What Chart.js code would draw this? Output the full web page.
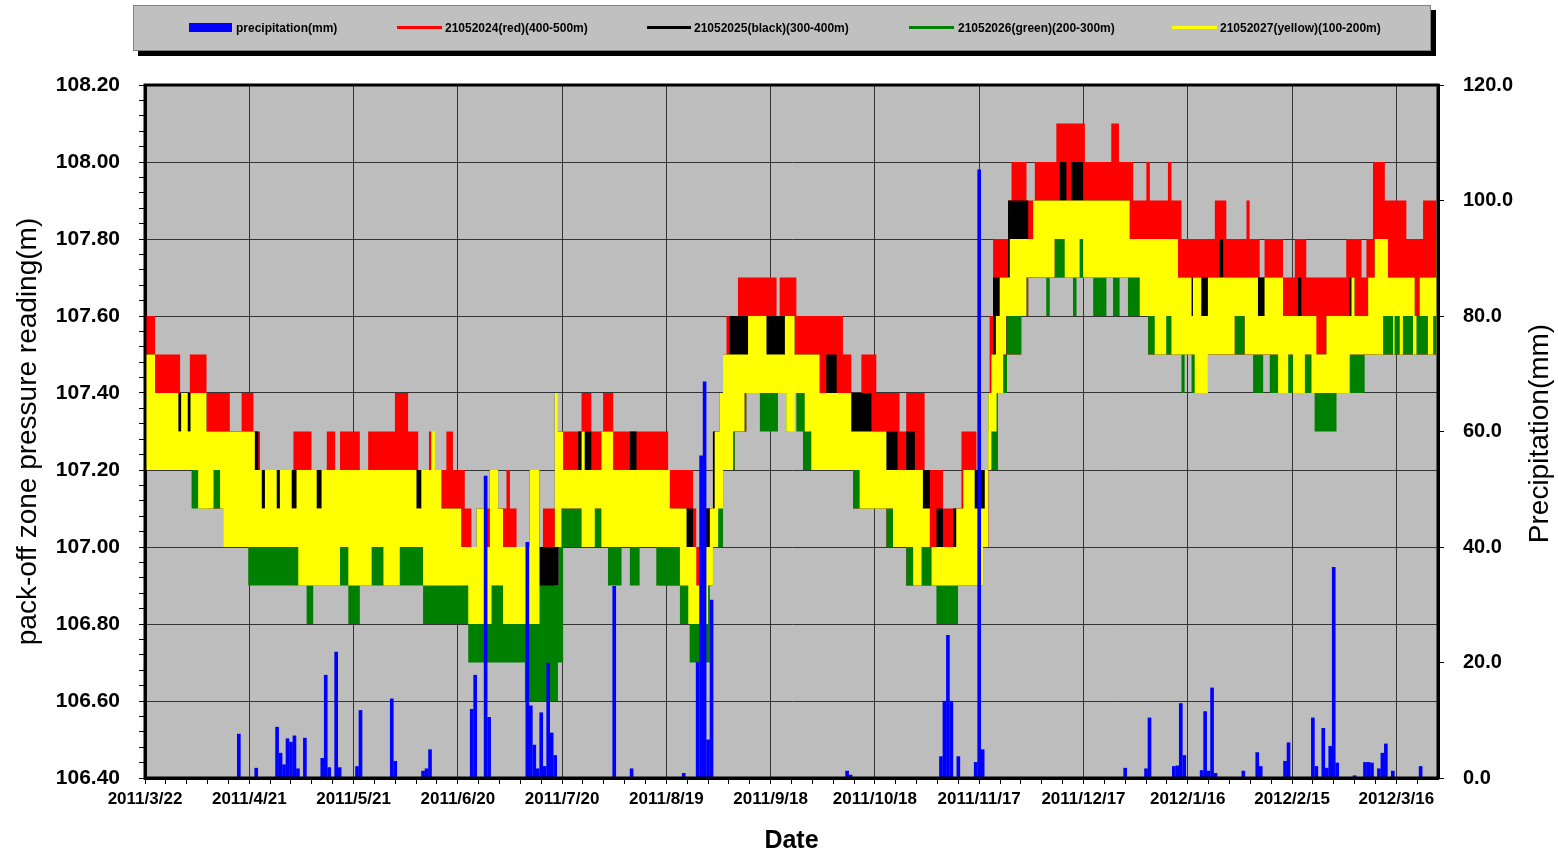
<!DOCTYPE html>
<html>
<head>
<meta charset="utf-8">
<script src="https://cdn.jsdelivr.net/npm/chart.js@4.4.1/dist/chart.umd.min.js"></script>
<style>
    body { margin: 0; background: #fff; }
    #wrap { position: relative; width: 1558px; height: 856px; }
    #chart { position: absolute; left: 0; top: 0; }
    #legend {
        position: absolute; left: 133px; top: 5px; width: 1296px; height: 44px;
        background: #c0c0c0; border: 1px solid #808080; box-shadow: 5px 5px 0 #000;
        font: bold 12px 'Liberation Sans', Arial, sans-serif; color: #000;
    }
    #legend span { position: absolute; }
    #legend .txt { top: 15px; line-height: 14px; white-space: nowrap; }
</style>
</head>
<body>
<div id="wrap">
    <canvas id="chart" width="1558" height="856"></canvas>
    <div id="legend">
        <span style="left:55px;top:17px;width:43px;height:9px;background:#0000ff"></span>
        <span class="txt" style="left:102px">precipitation(mm)</span>
        <span style="left:263px;top:20px;width:45px;height:3px;background:#ff0000"></span>
        <span class="txt" style="left:311px">21052024(red)(400-500m)</span>
        <span style="left:513px;top:20px;width:44px;height:3px;background:#000"></span>
        <span class="txt" style="left:560px">21052025(black)(300-400m)</span>
        <span style="left:775px;top:20px;width:45px;height:3px;background:#008000"></span>
        <span class="txt" style="left:824px">21052026(green)(200-300m)</span>
        <span style="left:1038px;top:20px;width:45px;height:3px;background:#ffff00"></span>
        <span class="txt" style="left:1086px">21052027(yellow)(100-200m)</span>
    </div>
</div>
<script>
// x values are days since 2011/3/22
const dateLabels = ['2011/3/22', '2011/4/21', '2011/5/21', '2011/6/20', '2011/7/20', '2011/8/19', '2011/9/18',
    '2011/10/18', '2011/11/17', '2011/12/17', '2012/1/16', '2012/2/15', '2012/3/16'];
const leftTickLabels = ['106.40', '106.60', '106.80', '107.00', '107.20', '107.40', '107.60', '107.80', '108.00', '108.20'];
const rightTickLabels = ['0.0', '20.0', '40.0', '60.0', '80.0', '100.0', '120.0'];

// daily precipitation (mm), [day, value]
const precipitation = [[27,7.6],[32,1.7],[38,8.8],[39,4.3],[40,2.3],[41,6.8],[42,6.2],[43,7.3],[44,1.6],[46,6.9],
    [51,3.4],[52,17.8],[53,1.8],[55,21.8],[56,1.8],[61,2.0],[62,11.7],[71,13.7],[72,2.9],[80,1.2],[81,1.6],[82,4.9],
    [94,11.9],[95,17.8],[98,52.3],[99,10.5],[110,40.8],[111,12.5],[112,5.7],[113,1.6],[114,11.3],[115,2.0],[116,19.9],
    [117,7.8],[118,3.9],[135,33.2],[140,1.6],[155,0.8],[159,20.0],[160,55.8],[161,68.6],[162,6.6],[163,30.8],[202,1.2],
    [203,0.5],[229,3.7],[230,13.3],[231,24.7],[232,13.3],[234,3.7],[239,2.7],[240,105.3],[241,4.9],[282,1.7],[288,1.6],
    [289,10.4],[296,2.0],[297,2.1],[298,12.9],[299,3.9],[304,1.3],[305,11.5],[306,1.2],[307,15.6],[308,0.8],[316,1.2],
    [320,4.4],[321,2.0],[328,2.9],[329,6.1],[336,10.4],[337,2.0],[339,8.6],[340,1.7],[341,5.5],[342,36.5],[343,2.6],
    [348,0.4],[351,2.7],[352,2.7],[353,2.6],[355,1.6],[356,4.3],[357,5.9],[359,1.2],[367,2.0]];

// pressure reading ranges (m), [day, value] step points: upper and lower edge of each sensor's trace
const redMax = [[0,107.6],[2.9,107.5],[10.1,107.4],[12.9,107.5],[17.7,107.4],[24.4,107.3],[27.8,107.4],[31.2,107.3],
    [33.1,107.2],[42.7,107.3],[47.9,107.2],[52.3,107.3],[54.7,107.2],[56.1,107.3],[61.8,107.2],[64.2,107.3],[71.9,107.4],
    [75.7,107.3],[78.6,107.2],[81.7,107.3],[82.4,107.2],[86.7,107.3],[88.6,107.2],[92,107.1],[93.9,107.0],[97.7,107.1],
    [104,107.2],[105,107.1],[106.9,107.0],[114.5,107.1],[118.8,107.3],[125.6,107.4],[128.4,107.3],[131.8,107.4],
    [134.7,107.3],[150.5,107.2],[157.7,107.1],[158.6,107.0],[161,107.1],[163.4,107.3],[165.4,107.4],[167.3,107.6],
    [170.6,107.7],[181.7,107.6],[182.6,107.7],[187.4,107.6],[200.8,107.5],[203.2,107.4],[206.1,107.5],[210.4,107.4],
    [217.1,107.3],[219,107.4],[224.3,107.2],[229.6,107.1],[234.9,107.3],[239.2,107.2],[243,107.6],[244,107.8],
    [248.3,107.9],[249.3,108.0],[253.6,107.9],[256,108.0],[262.2,108.1],[270.4,108.0],[278,108.1],[280.2,108.0],
    [284.3,107.9],[288.1,108.0],[289.1,107.9],[294.3,108.0],[295.3,107.9],[298.2,107.8],[307.8,107.9],[311.1,107.8],
    [316.9,107.9],[317.8,107.8],[320.7,107.7],[322.1,107.8],[327.4,107.7],[330.8,107.8],[334.1,107.7],[345.6,107.8],
    [350,107.7],[351.4,107.8],[353.3,108.0],[356.7,107.9],[362.9,107.8],[367.7,107.9],[371.5,107.8],[372,107.8]];
const redMin = [[0,107.2],[17.7,107.1],[31.6,107.0],[85,106.9],[113.5,106.8],[117.9,107.0],[148,106.9],[163.4,107.0],
    [166.3,107.2],[169.7,107.3],[173,107.4],[191,107.2],[203.7,107.1],[213.3,107.0],[219,106.9],[241.1,107.0],
    [242.6,107.2],[245,107.4],[248,107.5],[252.1,107.6],[254.1,107.7],[288.6,107.5],[372,107.5]];

const blackMax = [[0,107.5],[2.9,107.4],[17.7,107.3],[32.6,107.2],[85.3,107.1],[91,107.0],[95.4,107.1],[97.7,107.0],
    [99.2,107.2],[101.6,107.1],[103,107.0],[110.7,107.2],[113.5,107.0],[117.9,107.4],[118.8,107.3],[120.3,107.2],
    [124.6,107.3],[128.4,107.2],[131.3,107.3],[134.7,107.2],[139.5,107.3],[141.4,107.2],[151,107.1],[157.7,106.9],
    [160.5,107.1],[163.4,107.3],[165.4,107.4],[166.3,107.5],[168.2,107.6],[186.9,107.5],[194.1,107.4],[196,107.5],
    [199,107.4],[209,107.3],[216.5,107.2],[219,107.3],[221.5,107.2],[225.8,107.0],[227.7,107.1],[229.6,107.0],
    [232.5,107.1],[235.4,107.2],[242.6,107.4],[243.5,107.5],[244,107.7],[248.3,107.9],[254.1,107.8],[255.5,107.9],
    [263.2,108.0],[265.1,107.9],[266.5,108.0],[269.9,107.9],[283.3,107.8],[297.2,107.7],[309.2,107.8],[310.2,107.7],
    [327.4,107.6],[331.7,107.7],[332.7,107.6],[336,107.5],[339.9,107.6],[346.6,107.7],[348,107.6],[351.9,107.7],
    [353.8,107.8],[357.6,107.7],[365.3,107.6],[366.7,107.7],[371.5,107.8],[372,107.8]];
const blackMin = [[0,107.3],[17.7,107.2],[31.6,107.1],[85,107.0],[91,106.9],[119,107.1],[152,107.0],[155.8,106.9],
    [163,107.1],[165,107.3],[172.5,107.4],[191,107.3],[203,107.2],[213,107.1],[222,107.0],[242.6,107.3],[243.5,107.4],
    [245,107.5],[248,107.6],[253.6,107.7],[261.7,107.8],[283.3,107.7],[290,107.6],[301,107.5],[313.5,107.6],
    [316.4,107.5],[337,107.4],[340,107.5],[353.8,107.6],[372,107.6]];

const greenMax = [[0,107.3],[17.7,107.2],[31.6,107.1],[85,107.0],[91,106.9],[119,107.1],[152,107.0],[155.8,106.9],
    [163,107.1],[165,107.3],[172.5,107.4],[191,107.3],[203,107.2],[213,107.1],[222,107.0],[242.6,107.3],[243.5,107.4],
    [245,107.5],[248,107.6],[253.6,107.7],[261.7,107.8],[283.3,107.7],[290,107.6],[301,107.5],[313.5,107.6],
    [316.4,107.5],[337,107.4],[340,107.5],[353.8,107.6],[372,107.6]];
const greenMin = [[0,107.2],[13.4,107.1],[22.5,107.0],[29.7,106.9],[46.5,106.8],[48.4,106.9],[58.5,106.8],[61.8,106.9],
    [80,106.8],[93,106.7],[109.3,106.6],[118.8,106.7],[120.3,107.0],[133.2,106.9],[137.1,107.0],[139.5,106.9],
    [142.3,107.0],[147.1,106.9],[153.9,106.8],[156.7,106.7],[162.5,106.9],[163.4,107.0],[166.3,107.2],[169.7,107.3],
    [173,107.4],[176.9,107.3],[182.1,107.4],[184.5,107.3],[185,107.4],[187.4,107.3],[189.3,107.2],[203.7,107.1],
    [213.3,107.0],[219,106.9],[227.7,106.8],[233.9,106.9],[241.1,107.0],[242.6,107.2],[245.4,107.4],[248,107.5],
    [252.1,107.6],[254.1,107.7],[259.3,107.6],[260.3,107.7],[267,107.6],[268,107.7],[272.8,107.6],[276.6,107.7],
    [278.5,107.6],[280.4,107.7],[282.8,107.6],[288.6,107.5],[298.2,107.4],[299.1,107.5],[301.1,107.4],[305.8,107.5],
    [318.8,107.4],[321.7,107.5],[323.6,107.4],[336.5,107.3],[342.8,107.4],[350.9,107.5],[372,107.5]];

const yellowMax = [[0,107.5],[2.9,107.4],[9.6,107.3],[10.4,107.4],[12.3,107.3],[13.1,107.4],[17.7,107.3],[31.6,107.2],
    [33.6,107.1],[34.5,107.2],[37.9,107.1],[38.8,107.2],[42.2,107.1],[43.6,107.2],[49.4,107.1],[50.8,107.2],[78.1,107.1],
    [79.5,107.2],[82.4,107.3],[83.4,107.2],[85.3,107.1],[91,107.0],[95.4,107.1],[97.7,107.0],[99.2,107.2],[101.6,107.1],
    [103,107.0],[110.7,107.2],[113.5,106.9],[117.9,107.4],[118.8,107.3],[120.3,107.2],[125.6,107.3],[126.5,107.2],
    [131.3,107.3],[134.7,107.2],[151,107.1],[155.8,107.0],[158.6,106.9],[161,107.0],[162.5,107.1],[163.9,107.3],
    [165.4,107.4],[166.3,107.5],[173.5,107.6],[178.8,107.5],[184.1,107.6],[186.9,107.5],[194.1,107.4],[203.2,107.3],
    [213.3,107.2],[223.8,107.1],[225.8,107.0],[233.4,107.1],[235.4,107.2],[238.7,107.1],[241.6,107.2],[242.6,107.4],
    [243.5,107.5],[244.8,107.6],[245.9,107.7],[248.8,107.8],[255.5,107.9],[283.3,107.8],[297.2,107.7],[301.1,107.6],
    [301.5,107.7],[303.9,107.6],[305.8,107.7],[320.2,107.6],[322.1,107.7],[327.4,107.6],[337,107.5],[339.9,107.6],
    [347.1,107.7],[348,107.6],[351.9,107.7],[353.8,107.8],[357.6,107.7],[365.3,107.6],[366.7,107.7],[371.5,107.8],
    [372,107.8]];
const yellowMin = [[0,107.2],[15.3,107.1],[19.7,107.2],[21.6,107.1],[22.5,107.0],[44.1,106.9],[56.1,107.0],[58.5,106.9],
    [65.2,107.0],[68.6,106.9],[73.3,107.0],[80,106.9],[93,106.8],[99.7,106.9],[103,106.8],[113.5,106.9],[117.9,107.0],
    [119.8,107.1],[125.6,107.0],[129.4,107.1],[131.3,107.0],[153.9,106.9],[156.3,106.8],[162,106.9],[163.4,107.0],
    [164.9,107.1],[166.3,107.2],[169.2,107.3],[172.5,107.4],[184.5,107.3],[186.9,107.4],[189.8,107.3],[191.7,107.2],
    [205.6,107.1],[215.2,107.0],[221,106.9],[223.4,107.0],[226.3,106.9],[241.1,107.0],[242.6,107.2],[243.5,107.3],
    [245,107.4],[246.9,107.5],[247.8,107.6],[253.6,107.7],[261.7,107.8],[264.6,107.7],[268.9,107.8],[269.9,107.7],
    [286.2,107.6],[290.5,107.5],[293.8,107.6],[295.3,107.5],[302,107.4],[305.8,107.5],[313.5,107.6],[316.4,107.5],
    [326,107.4],[328.9,107.5],[330.3,107.4],[333.7,107.5],[335.6,107.4],[346.6,107.5],[356.2,107.6],[359.1,107.5],
    [359.5,107.6],[361,107.5],[361.9,107.6],[364.8,107.5],[365.8,107.6],[369.1,107.5],[370.6,107.6],[371.5,107.5],
    [372,107.5]];

const toPoints = arr => arr.map(p => ({ x: p[0], y: p[1] }));

function band(label, color, top, bottom, order) {
    return [
        { label: label, type: 'line', data: toPoints(top), stepped: true, borderWidth: 0, pointRadius: 0,
          backgroundColor: color, borderColor: color, fill: '+1', order: order, yAxisID: 'y' },
        { label: label + ' low', type: 'line', data: toPoints(bottom), stepped: true, borderWidth: 0, pointRadius: 0,
          fill: false, order: order, yAxisID: 'y' }
    ];
}

const font = "'Liberation Sans', Arial, sans-serif";
Chart.defaults.font.family = font;
Chart.defaults.color = '#000';

const plotBackground = {
    id: 'plotBackground',
    beforeDraw(chart) {
        const { ctx, chartArea: a } = chart;
        ctx.save();
        ctx.fillStyle = '#bdbdbd';
        ctx.fillRect(a.left, a.top, a.right - a.left, a.bottom - a.top);
        ctx.restore();
    }
};

const plotFrame = {
    id: 'plotFrame',
    afterDatasetsDraw(chart) {
        const { ctx, chartArea: a } = chart;
        ctx.save();
        ctx.strokeStyle = '#000';
        ctx.lineWidth = 3;
        ctx.strokeRect(a.left, a.top, a.right - a.left, a.bottom - a.top);
        ctx.restore();
    }
};

// right axis title reads bottom-to-top like the left one
const rightTitle = {
    id: 'rightTitle',
    afterDraw(chart) {
        const { ctx, chartArea: a } = chart;
        ctx.save();
        ctx.translate(1540, (a.top + a.bottom) / 2 + 2);
        ctx.rotate(-Math.PI / 2);
        ctx.font = '28px ' + font;
        ctx.fillStyle = '#000';
        ctx.textAlign = 'center';
        ctx.textBaseline = 'middle';
        ctx.fillText('Precipitation(mm)', 0, 0);
        ctx.restore();
    }
};

const datasets = [
    { label: 'precipitation(mm)', type: 'bar', data: toPoints(precipitation), yAxisID: 'y2',
      backgroundColor: '#0000ff', borderWidth: 0, barThickness: 3, order: 0 },
    ...band('21052027(yellow)(100-200m)', '#ffff00', yellowMax, yellowMin, 1),
    ...band('21052025(black)(300-400m)', '#000000', blackMax, blackMin, 2),
    ...band('21052026(green)(200-300m)', '#008000', greenMax, greenMin, 3),
    ...band('21052024(red)(400-500m)', '#ff0000', redMax, redMin, 4)
];

new Chart(document.getElementById('chart'), {
    type: 'line',
    data: { datasets: datasets },
    plugins: [plotBackground, plotFrame, rightTitle],
    options: {
        responsive: false,
        animation: false,
        events: [],
        layout: { padding: { top: 85, left: 0, right: 0, bottom: 0 } },
        plugins: { legend: { display: false }, tooltip: { enabled: false } },
        scales: {
            x: {
                type: 'linear', min: 0, max: 372, offset: false,
                afterBuildTicks: scale => {
                    const t = [];
                    for (let v = 0; v <= 366; v += 6) t.push({ value: v });
                    scale.ticks = t;
                },
                afterFit: scale => { scale.height = 78; },
                grid: {
                    offset: false,
                    color: c => (c.tick && c.tick.value % 30 === 0) ? '#333' : 'rgba(0,0,0,0)',
                    lineWidth: 1, tickLength: 6, tickColor: '#000', tickWidth: 1
                },
                border: { color: '#000', width: 3 },
                ticks: {
                    autoSkip: false, maxRotation: 0, padding: 5,
                    font: { size: 17, weight: 'bold' },
                    callback: v => v % 30 === 0 ? dateLabels[v / 30] : ''
                },
                title: { display: true, text: 'Date', font: { size: 25, weight: 'bold' }, padding: { top: 0, bottom: 0 } }
            },
            y: {
                type: 'linear', position: 'left', min: 106.4, max: 108.2,
                afterBuildTicks: scale => {
                    const t = [];
                    for (let i = 0; i <= 45; i++) t.push({ value: Math.round((106.4 + i * 0.04) * 100) / 100 });
                    scale.ticks = t;
                },
                afterFit: scale => { scale.width = 145; },
                grid: {
                    color: c => c.index % 5 === 0 ? '#333' : 'rgba(0,0,0,0)',
                    lineWidth: 1, tickLength: 6, tickColor: '#000', tickWidth: 1
                },
                border: { color: '#000', width: 3 },
                ticks: {
                    autoSkip: false, padding: 19,
                    font: { size: 21, weight: 'bold' },
                    callback: (v, i) => i % 5 === 0 ? leftTickLabels[i / 5] : ''
                },
                title: { display: true, text: 'pack-off zone pressure reading(m)', font: { size: 28 }, padding: { top: 11, bottom: 0 } }
            },
            y2: {
                type: 'linear', position: 'right', min: 0, max: 120,
                afterBuildTicks: scale => {
                    scale.ticks = rightTickLabels.map((l, i) => ({ value: i * 20 }));
                },
                afterFit: scale => { scale.width = 120; },
                grid: { drawOnChartArea: false, tickLength: 6, tickColor: '#000', tickWidth: 1 },
                border: { color: '#000', width: 3 },
                ticks: {
                    autoSkip: false, padding: 19,
                    font: { size: 20, weight: 'bold' },
                    callback: (v, i) => rightTickLabels[i]
                }
            }
        }
    }
});
</script>
</body>
</html>
